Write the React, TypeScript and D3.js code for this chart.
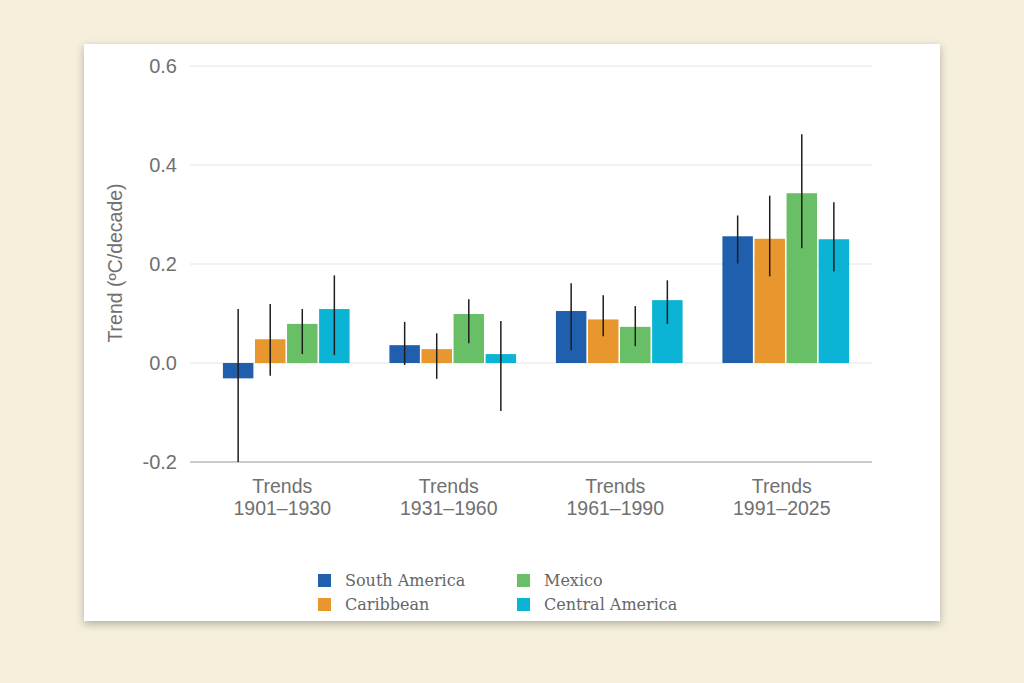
import React, { useEffect, useRef } from 'react';
import * as d3 from 'd3';

// Periods along the x axis (two-line labels)
const periods = ['1901–1930', '1931–1960', '1961–1990', '1991–2025'];
const regions = ['South America', 'Caribbean', 'Mexico', 'Central America'];
const regionColors = ['#1f5fad', '#e8962e', '#68bf65', '#0bb3d5'];

// Trend values (°C/decade), one array per region, in period order
const southAmerica = [-0.031, 0.036, 0.105, 0.256];
const caribbean = [0.048, 0.028, 0.088, 0.251];
const mexico = [0.079, 0.099, 0.073, 0.343];
const centralAmerica = [0.109, 0.018, 0.127, 0.25];

// Uncertainty ranges [low, high]
const southAmericaErr = [[-0.2, 0.109], [-0.004, 0.083], [0.026, 0.161], [0.201, 0.298]];
const caribbeanErr = [[-0.026, 0.119], [-0.032, 0.06], [0.054, 0.137], [0.175, 0.338]];
const mexicoErr = [[0.018, 0.109], [0.04, 0.129], [0.034, 0.115], [0.232, 0.462]];
const centralAmericaErr = [[0.016, 0.177], [-0.097, 0.085], [0.079, 0.167], [0.185, 0.325]];

const yTicks = [-0.2, 0.0, 0.2, 0.4, 0.6];

const sansFont = '"Liberation Sans", Arial, sans-serif';

const TrendBars = () => {
  const svgRef = useRef(null);

  useEffect(() => {
    const svg = d3.select(svgRef.current);
    svg.selectAll('*').remove();

    const width = 1024;
    const height = 683;

    // page background + card
    svg.append('rect').attr('width', width).attr('height', height).attr('fill', '#f5efdc');

    const defs = svg.append('defs');
    const shadow = defs.append('filter').attr('id', 'card-shadow')
      .attr('x', '-10%').attr('y', '-10%').attr('width', '120%').attr('height', '120%');
    shadow.append('feDropShadow')
      .attr('dx', 0).attr('dy', 3).attr('stdDeviation', 4)
      .attr('flood-color', '#000').attr('flood-opacity', 0.28);

    svg.append('rect')
      .attr('x', 84).attr('y', 44).attr('width', 856).attr('height', 577)
      .attr('fill', '#ffffff')
      .attr('filter', 'url(#card-shadow)');

    const series = [
      { values: southAmerica, err: southAmericaErr },
      { values: caribbean, err: caribbeanErr },
      { values: mexico, err: mexicoErr },
      { values: centralAmerica, err: centralAmericaErr },
    ];

    const y = d3.scaleLinear().domain([-0.2, 0.6]).range([462, 66]);
    const x0 = d3.scaleBand().domain(periods).range([203, 869])
      .paddingInner(0.22).paddingOuter(0.11);
    const x1 = d3.scaleBand().domain(regions).range([0, x0.bandwidth()]).padding(0.05);
    const color = d3.scaleOrdinal().domain(regions).range(regionColors);

    const g = svg.append('g');

    // gridlines
    g.selectAll('line.grid')
      .data(yTicks.filter(t => t !== -0.2))
      .enter().append('line')
      .attr('class', 'grid')
      .attr('x1', 190).attr('x2', 872)
      .attr('y1', d => y(d)).attr('y2', d => y(d))
      .attr('stroke', '#e4e4e4').attr('stroke-width', 1);

    // baseline at the bottom of the axis
    g.append('line')
      .attr('x1', 190).attr('x2', 872)
      .attr('y1', y(-0.2)).attr('y2', y(-0.2))
      .attr('stroke', '#9a9a9a').attr('stroke-width', 1.2);

    // y tick labels
    g.selectAll('text.ytick')
      .data(yTicks)
      .enter().append('text')
      .attr('class', 'ytick')
      .attr('x', 177)
      .attr('y', d => y(d) + 7)
      .attr('text-anchor', 'end')
      .attr('fill', '#707070')
      .style('font-family', sansFont)
      .style('font-size', '20px')
      .text(d => d3.format('.1f')(d).replace('−', '-'));

    // y axis title
    g.append('text')
      .attr('transform', `translate(122, 263) rotate(-90)`)
      .attr('text-anchor', 'middle')
      .attr('fill', '#707070')
      .style('font-family', sansFont)
      .style('font-size', '19.5px')
      .text('Trend (ºC/decade)');

    // bars
    series.forEach((s, si) => {
      const region = regions[si];
      g.selectAll(`rect.bar-${si}`)
        .data(s.values)
        .enter().append('rect')
        .attr('class', `bar-${si}`)
        .attr('x', (d, i) => x0(periods[i]) + x1(region))
        .attr('y', d => y(Math.max(0, d)))
        .attr('width', x1.bandwidth())
        .attr('height', d => Math.abs(y(d) - y(0)))
        .attr('fill', color(region));
    });

    // error bars
    series.forEach((s, si) => {
      const region = regions[si];
      g.selectAll(`line.err-${si}`)
        .data(s.err)
        .enter().append('line')
        .attr('class', `err-${si}`)
        .attr('x1', (d, i) => x0(periods[i]) + x1(region) + x1.bandwidth() / 2)
        .attr('x2', (d, i) => x0(periods[i]) + x1(region) + x1.bandwidth() / 2)
        .attr('y1', d => y(d[0]))
        .attr('y2', d => y(d[1]))
        .attr('stroke', '#1e1e1e')
        .attr('stroke-width', 1.5);
    });

    // x category labels
    const xl = g.selectAll('text.xlab')
      .data(periods)
      .enter().append('text')
      .attr('class', 'xlab')
      .attr('text-anchor', 'middle')
      .attr('fill', '#707070')
      .style('font-family', sansFont)
      .style('font-size', '19.5px');
    xl.append('tspan')
      .attr('x', d => x0(d) + x0.bandwidth() / 2 - 4)
      .attr('y', 493)
      .text('Trends');
    xl.append('tspan')
      .attr('x', d => x0(d) + x0.bandwidth() / 2 - 4)
      .attr('y', 515)
      .text(d => d);

    // legend (two columns)
    const legendPos = [[318, 574], [318, 598], [517, 574], [517, 598]];
    const legend = g.selectAll('g.legend')
      .data(regions)
      .enter().append('g')
      .attr('class', 'legend')
      .attr('transform', (d, i) => `translate(${legendPos[i][0]}, ${legendPos[i][1]})`);
    legend.append('rect')
      .attr('width', 13).attr('height', 13)
      .attr('fill', d => color(d));
    legend.append('text')
      .attr('x', 27).attr('y', 12)
      .attr('fill', '#666')
      .style('font-family', '"DejaVu Serif", serif')
      .style('font-size', '16px')
      .text(d => d);
  }, []);

  return (
    <div style={{ position: 'absolute', left: 0, top: 0 }}>
      <svg ref={svgRef} width={1024} height={683} style={{ display: 'block' }} />
    </div>
  );
};

export default function App() {
  return <TrendBars />;
}
